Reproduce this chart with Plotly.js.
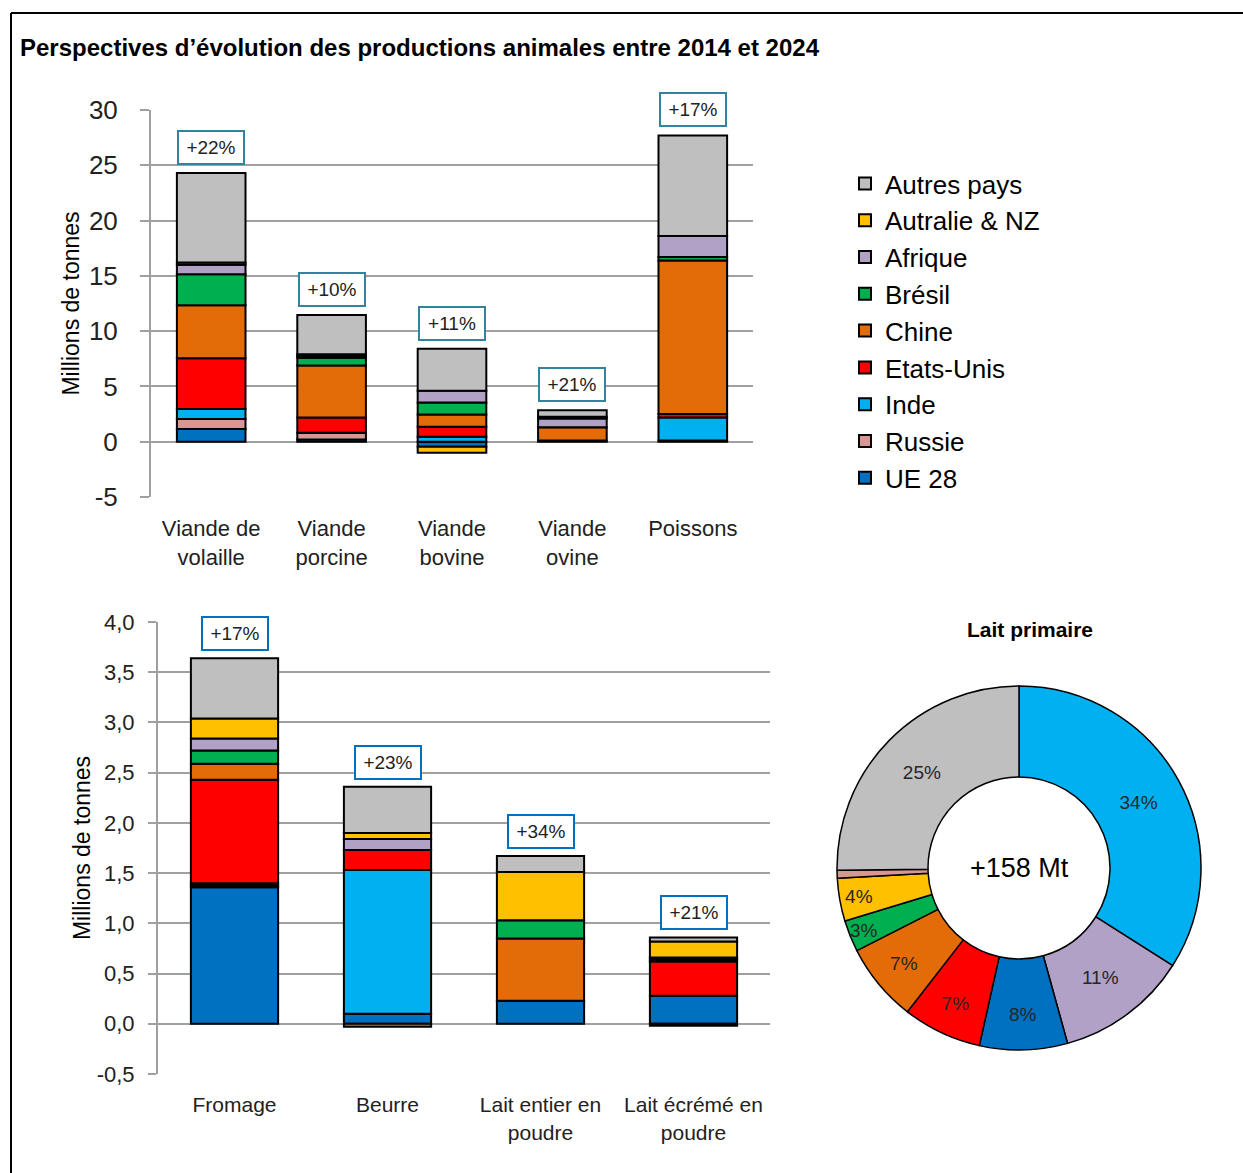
<!DOCTYPE html>
<html>
<head>
<meta charset="utf-8">
<script src="https://cdn.plot.ly/plotly-3.0.1.min.js"></script>
<style>html,body{margin:0;padding:0;background:#fff;}#chart{width:1243px;height:1173px;}</style>
</head>
<body>
<div id="chart"></div>
<script>
// ---------- DATA ----------
const seriesNames = ["UE 28", "Russie", "Inde", "Etats-Unis", "Chine", "Brésil", "Afrique", "Autralie & NZ", "Autres pays"];
const seriesColors = ["#0070C0", "#D99694", "#00B0F0", "#FF0000", "#E36C09", "#00B050", "#B2A1C7", "#FFC000", "#BFBFBF"];

const meatCategories = ["Viande de<br>volaille", "Viande<br>porcine", "Viande<br>bovine", "Viande<br>ovine", "Poissons"];
const meatUE28      = [1.15, 0.20, -0.45, 0.10, 0.10];
const meatRussie    = [0.90, 0.60, 0.00, 0.00, 0.00];
const meatInde      = [0.90, 0.00, 0.45, 0.00, 2.10];
const meatEtatsUnis = [4.60, 1.40, 0.90, 0.00, 0.30];
const meatChine     = [4.80, 4.70, 1.10, 1.20, 13.90];
const meatBresil    = [2.80, 0.70, 1.10, 0.00, 0.30];
const meatAfrique   = [0.85, 0.15, 1.05, 0.80, 1.90];
const meatAustralie = [0.20, 0.15, -0.55, 0.15, 0.00];
const meatAutres    = [8.10, 3.55, 3.80, 0.60, 9.10];
const meatGrowth    = ["+22%", "+10%", "+11%", "+21%", "+17%"];
const meatTickVals  = [-5, 0, 5, 10, 15, 20, 25, 30];
const meatTickText  = ["-5", "0", "5", "10", "15", "20", "25", "30"];

const dairyCategories = ["Fromage", "Beurre", "Lait entier en<br>poudre", "Lait écrémé en<br>poudre"];
const dairyUE28      = [1.36, 0.10, 0.23, 0.28];
const dairyRussie    = [0.02, 0.00, 0.00, -0.02];
const dairyInde      = [0.02, 1.43, 0.00, 0.00];
const dairyEtatsUnis = [1.03, 0.20, 0.00, 0.34];
const dairyChine     = [0.16, -0.03, 0.62, 0.02];
const dairyBresil    = [0.13, 0.00, 0.18, 0.02];
const dairyAfrique   = [0.12, 0.11, 0.00, 0.00];
const dairyAustralie = [0.20, 0.06, 0.48, 0.16];
const dairyAutres    = [0.60, 0.46, 0.16, 0.04];
const dairyGrowth    = ["+17%", "+23%", "+34%", "+21%"];
const dairyTickVals  = [-0.5, 0, 0.5, 1, 1.5, 2, 2.5, 3, 3.5, 4];
const dairyTickText  = ["-0,5", "0,0", "0,5", "1,0", "1,5", "2,0", "2,5", "3,0", "3,5", "4,0"];

const milkLabels = ["Inde", "Afrique", "UE 28", "Etats-Unis", "Chine", "Brésil", "Autralie & NZ", "Russie", "Autres pays"];
const milkShares = [34.0, 11.7, 7.8, 7.0, 7.0, 2.8, 3.8, 0.7, 25.2];
const milkText   = ["34%", "11%", "8%", "7%", "7%", "3%", "4%", "", "25%"];
const milkColors = ["#00B0F0", "#B2A1C7", "#0070C0", "#FF0000", "#E36C09", "#00B050", "#FFC000", "#D99694", "#BFBFBF"];
const milkTotal  = "+158 Mt";

// ---------- LAYOUT HELPERS ----------
const W = 1243, H = 1173;
const px = v => v / W;
const py = v => 1 - v / H;
const FONT = "'Liberation Sans', Arial, sans-serif";
const GRID = "#a0a0a0";

const meatSeries = [meatUE28, meatRussie, meatInde, meatEtatsUnis, meatChine, meatBresil, meatAfrique, meatAustralie, meatAutres];
const dairySeries = [dairyUE28, dairyRussie, dairyInde, dairyEtatsUnis, dairyChine, dairyBresil, dairyAfrique, dairyAustralie, dairyAutres];

const traces = [];
seriesNames.forEach((name, i) => {
  traces.push({
    type: "bar", name: name, x: meatCategories, y: meatSeries[i],
    xaxis: "x", yaxis: "y", legendgroup: name, showlegend: true,
    marker: {color: seriesColors[i], line: {color: "#000", width: 2}}
  });
});
seriesNames.forEach((name, i) => {
  traces.push({
    type: "bar", name: name, x: dairyCategories, y: dairySeries[i],
    xaxis: "x2", yaxis: "y2", legendgroup: name, showlegend: false,
    marker: {color: seriesColors[i], line: {color: "#000", width: 2}}
  });
});
traces.push({
  type: "pie", labels: milkLabels, values: milkShares, text: milkText,
  textinfo: "text", textposition: "inside", insidetextorientation: "horizontal",
  sort: false, direction: "clockwise", rotation: 0, hole: 0.5, showlegend: false,
  marker: {colors: milkColors, line: {color: "#000", width: 1.5}},
  textfont: {family: FONT, size: 19, color: "#262626"},
  domain: {x: [px(837), px(1201)], y: [py(1050), py(686)]}
});

function positiveTotals(series, n) {
  const t = [];
  for (let j = 0; j < n; j++) {
    let s = 0;
    series.forEach(a => { if (a[j] > 0) s += a[j]; });
    t.push(s);
  }
  return t;
}
const meatTotals = positiveTotals(meatSeries, meatCategories.length);
const dairyTotals = positiveTotals(dairySeries, dairyCategories.length);

const boxFont = {family: FONT, size: 19, color: "#222"};
const annotations = [];
meatCategories.forEach((c, j) => annotations.push({
  x: c, y: meatTotals[j], xref: "x", yref: "y", xanchor: "center", yanchor: "bottom", yshift: 8,
  text: meatGrowth[j], showarrow: false, bgcolor: "#fff", bordercolor: "#31849B",
  borderwidth: 2, borderpad: 5, width: 54, height: 21, font: boxFont
}));
dairyCategories.forEach((c, j) => annotations.push({
  x: c, y: dairyTotals[j], xref: "x2", yref: "y2", xanchor: "center", yanchor: "bottom", yshift: 7,
  text: dairyGrowth[j], showarrow: false, bgcolor: "#fff", bordercolor: "#0070C0",
  borderwidth: 2, borderpad: 5, width: 54, height: 21, font: boxFont
}));
annotations.push({
  x: px(1030), y: py(629), xref: "paper", yref: "paper", xanchor: "center", yanchor: "middle", showarrow: false,
  text: "<b>Lait primaire</b>", font: {family: FONT, size: 21, color: "#000"}
});
annotations.push({
  x: px(1019), y: py(868), xref: "paper", yref: "paper", xanchor: "center", yanchor: "middle", showarrow: false,
  text: milkTotal, font: {family: FONT, size: 27, color: "#000"}
});

const layout = {
  width: W, height: H,
  margin: {l: 0, r: 0, t: 0, b: 0},
  paper_bgcolor: "#fff", plot_bgcolor: "#fff",
  separators: ", ",
  barmode: "relative", bargap: 0.43,
  font: {family: FONT, color: "#222"},
  title: {text: "<b>Perspectives d’évolution des productions animales entre 2014 et 2024</b>",
          x: px(20), xanchor: "left", y: py(48), yanchor: "middle",
          font: {family: FONT, size: 24, color: "#000"}},
  xaxis: {domain: [px(151), px(753)], anchor: "y", showgrid: false, zeroline: false, tickangle: 0,
          showline: false, ticks: "outside", ticklen: 12, tickcolor: "rgba(0,0,0,0)",
          tickfont: {family: FONT, size: 22, color: "#222"}},
  yaxis: {domain: [py(497), py(110)], anchor: "x", range: [-5, 30],
          tickmode: "array", tickvals: meatTickVals, ticktext: meatTickText,
          showgrid: true, gridcolor: GRID, gridwidth: 2, zeroline: true, zerolinecolor: GRID, zerolinewidth: 2,
          showline: true, linecolor: GRID, linewidth: 2,
          ticks: "outside", ticklen: 9, tickcolor: GRID, tickwidth: 2, ticklabelstandoff: 17,
          tickfont: {family: FONT, size: 26, color: "#222"},
          title: {text: "Millions de tonnes", standoff: 3, font: {family: FONT, size: 23, color: "#000"}}},
  xaxis2: {domain: [px(158), px(770)], anchor: "y2", showgrid: false, zeroline: false, tickangle: 0,
           showline: false, ticks: "outside", ticklen: 12, tickcolor: "rgba(0,0,0,0)",
           tickfont: {family: FONT, size: 21, color: "#222"}},
  yaxis2: {domain: [py(1074), py(622)], anchor: "x2", range: [-0.5, 4.0],
           tickmode: "array", tickvals: dairyTickVals, ticktext: dairyTickText,
           showgrid: true, gridcolor: GRID, gridwidth: 2, zeroline: true, zerolinecolor: GRID, zerolinewidth: 2,
           showline: true, linecolor: GRID, linewidth: 2,
           ticks: "outside", ticklen: 8, tickcolor: GRID, tickwidth: 2, ticklabelstandoff: 9,
           tickfont: {family: FONT, size: 22, color: "#222"},
           title: {text: "Millions de tonnes", standoff: 0, font: {family: FONT, size: 23, color: "#000"}}},
  legend: {x: px(845), y: py(160), xanchor: "left", yanchor: "top", traceorder: "reversed",
           font: {family: FONT, size: 26, color: "#000"}, bgcolor: "rgba(0,0,0,0)",
           itemwidth: 30, tracegroupgap: 0},
  uniformtext: {minsize: 19, mode: "show"},
  annotations: annotations,
  shapes: [
    {type: "line", xref: "paper", yref: "paper", x0: px(11), x1: px(11), y0: py(13), y1: 0, line: {color: "#000", width: 2}},
    {type: "line", xref: "paper", yref: "paper", x0: px(11), x1: 1, y0: py(13), y1: py(13), line: {color: "#000", width: 2}}
  ]
};

Plotly.newPlot("chart", traces, layout, {displayModeBar: false, staticPlot: true});
</script>
</body>
</html>
